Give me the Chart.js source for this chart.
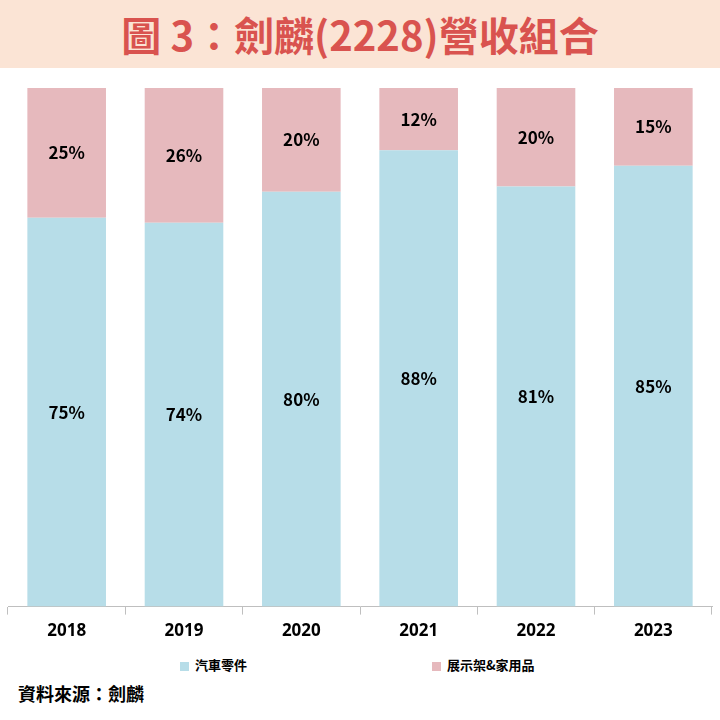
<!DOCTYPE html>
<html>
<head>
<meta charset="utf-8">
<script src="https://cdn.jsdelivr.net/npm/chart.js@4"></script>
<style>
  body { margin: 0; width: 720px; height: 720px; background: #fff; position: relative; font-family: "Noto Sans CJK TC", "Noto Sans", sans-serif; overflow: hidden; }
  #title { position: absolute; left: 0; top: 0; width: 720px; height: 68px; background: #fbe4d5; color: #d9534f; font-weight: bold; font-size: 40px; text-align: center; line-height: 68px; }
  #wrap { position: absolute; left: 0; top: 70px; width: 720px; height: 577px; }
  #legend { position: absolute; top: 655px; left: 0; width: 720px; height: 20px; font-size: 13px; font-weight: bold; }
  .item { position: absolute; top: 0; }
  .box { display: inline-block; width: 9px; height: 9px; margin-right: 6px; vertical-align: -1px; }
  #source { position: absolute; left: 18px; top: 680px; font-size: 18px; font-weight: bold; color: #000; }
</style>
</head>
<body>
<div id="title">圖 3：劍麟(2228)營收組合</div>
<div id="wrap"><canvas id="chart"></canvas></div>
<div id="legend"></div>
<div id="source">資料來源：劍麟</div>
<script>
const years = ["2018", "2019", "2020", "2021", "2022", "2023"];
const autoParts = [75, 74, 80, 88, 81, 85];
const displayRack = [25, 26, 20, 12, 20, 15];
const seriesNames = ["汽車零件", "展示架&家用品"];
const colors = ["#b7dde8", "#e6b9bd"];

/* ------------------ LABELS ON BARS ------------------ */
const barLabels = {
    id: "barLabels",
    afterDatasetsDraw(chart) {
        const ctx = chart.ctx;
        ctx.save();
        ctx.font = "bold 17px 'Noto Sans CJK TC', 'Noto Sans', sans-serif";
        ctx.fillStyle = "#000";
        ctx.textAlign = "center";
        ctx.textBaseline = "middle";
        ctx.beginPath();
        ctx.rect(chart.chartArea.left, chart.chartArea.top, chart.chartArea.width, chart.chartArea.height);
        ctx.clip();
        chart.data.datasets.forEach((ds, i) => {
            chart.getDatasetMeta(i).data.forEach((bar, j) => {
                const top = Math.max(bar.y, chart.chartArea.top);
                ctx.fillText(ds.data[j] + "%", bar.x, (top + bar.base) / 2);
            });
        });
        ctx.restore();
    }
};

new Chart(document.getElementById("chart"), {
    type: "bar",
    data: {
        labels: years,
        datasets: [
            { label: seriesNames[0], data: autoParts, backgroundColor: colors[0] },
            { label: seriesNames[1], data: displayRack, backgroundColor: colors[1] }
        ]
    },
    options: {
        responsive: true,
        maintainAspectRatio: false,
        animation: false,
        layout: { padding: { left: 8, right: 8, top: 18, bottom: 0 } },
        plugins: { legend: { display: false }, tooltip: { enabled: false } },
        datasets: { bar: { categoryPercentage: 1, barPercentage: 0.67 } },
        scales: {
            x: {
                stacked: true,
                grid: { offset: true, drawOnChartArea: false, drawTicks: true, tickLength: 8, color: "#bfbfbf" },
                border: { color: "#bfbfbf" },
                ticks: { color: "#000", font: { size: 17, weight: "bold", family: "'Noto Sans', sans-serif" }, padding: 6 }
            },
            y: { stacked: true, min: 0, max: 100, display: false }
        }
    },
    plugins: [barLabels]
});

/* ------------------ LEGEND ------------------ */
const legend = document.getElementById("legend");
const legendX = [180, 432];
seriesNames.forEach((name, i) => {
    const d = document.createElement("div");
    d.className = "item";
    d.style.left = legendX[i] + "px";
    d.innerHTML = `<span class="box" style="background:${colors[i]}"></span>${name}`;
    legend.appendChild(d);
});
</script>
</body>
</html>
